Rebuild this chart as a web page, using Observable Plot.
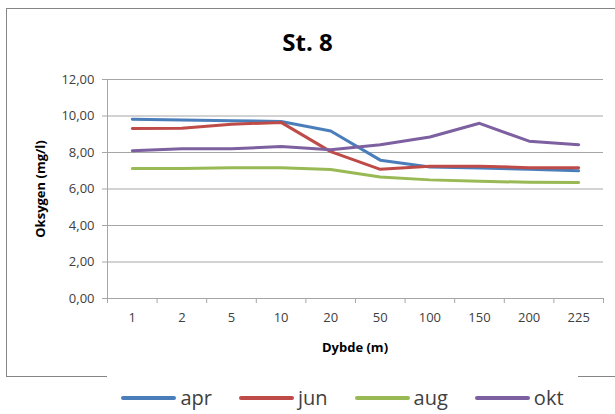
<!DOCTYPE html>
<html><head><meta charset="utf-8">
<script src="https://cdn.jsdelivr.net/npm/d3@7"></script>
<script src="https://cdn.jsdelivr.net/npm/@observablehq/plot@0.6"></script>
<style>
body{margin:0;background:#fff;font-family:"Open Sans",sans-serif;}
#wrap{position:relative;width:615px;height:414px;overflow:hidden;background:#fff;}
#frame{position:absolute;left:6px;top:8px;width:640px;height:369px;border:1px solid #868686;box-sizing:border-box;}
#title{position:absolute;left:0;width:615px;top:25px;text-align:center;font-weight:bold;font-size:24px;line-height:34px;color:#000;}
#plot{position:absolute;left:0;top:0;}
#xlab{position:absolute;left:107px;width:496px;top:337px;text-align:center;font-weight:bold;font-size:13px;line-height:20px;color:#000;}
#ylab{position:absolute;left:40px;top:189px;transform:translate(-50%,-50%) rotate(-90deg);font-weight:bold;font-size:13px;white-space:nowrap;color:#000;}
#legend{position:absolute;left:107px;width:471px;top:374px;height:48px;background:#fff;display:flex;justify-content:center;align-items:center;gap:27px;}
.item{display:flex;align-items:center;gap:4px;font-size:20px;color:#404040;line-height:24px;}
.sw{width:55px;height:4px;border-radius:2px;}
</style>
</head><body>
<div id="wrap">
  <div id="frame"></div>
  <div id="plot"></div>
  <div id="title">St. 8</div>
  <div id="ylab">Oksygen (mg/l)</div>
  <div id="xlab">Dybde (m)</div>
  <div id="legend"></div>
</div>
<script>
const depths = ["1","2","5","10","20","50","100","150","200","225"];
const apr = [9.82,9.78,9.74,9.70,9.18,7.58,7.20,7.15,7.08,7.00];
const jun = [9.32,9.33,9.55,9.65,8.05,7.08,7.25,7.25,7.17,7.16];
const aug = [7.12,7.12,7.16,7.16,7.07,6.66,6.50,6.42,6.37,6.36];
const okt = [8.10,8.20,8.20,8.33,8.15,8.43,8.85,9.60,8.62,8.43];
const seriesNames = ["apr","jun","aug","okt"];
const colors = ["#4a7ebb","#be4b48","#98b954","#7d60a0"];
const yTicks = [0,2,4,6,8,10,12];

const seriesValues = [apr, jun, aug, okt];
const rows = [];
seriesNames.forEach((s, k) => seriesValues[k].forEach((v, i) => rows.push({s, x: i + 0.5, v})));

const boundaries = d3.range(0, depths.length + 1);
const centers = depths.map((d, i) => i + 0.5);
const gridColor = "#a6a6a6";

const chart = Plot.plot({
  width: 615, height: 414,
  marginTop: 79, marginBottom: 116, marginLeft: 107, marginRight: 12,
  style: {fontFamily: "Open Sans", fontSize: "13px", color: "#404040", background: "transparent", overflow: "visible"},
  x: {type: "linear", domain: [0, depths.length], axis: null},
  y: {domain: [0, 12], axis: null},
  color: {domain: seriesNames, range: colors},
  marks: [
    Plot.gridY(yTicks, {stroke: gridColor, strokeOpacity: 1}),
    Plot.ruleX([0], {stroke: gridColor}),
    Plot.axisY(yTicks, {tickSize: 5, tickPadding: 8, stroke: gridColor, fill: "#404040", label: null,
      tickFormat: d => d.toFixed(2).replace(".", ",")}),
    Plot.axisX(boundaries, {tickSize: 5, stroke: gridColor, tickFormat: () => "", label: null}),
    Plot.axisX(centers, {tickSize: 0, tickPadding: 14, fill: "#404040", label: null,
      tickFormat: d => depths[Math.floor(d)]}),
    Plot.line(rows, {x: "x", y: "v", z: "s", stroke: "s", strokeWidth: 3})
  ]
});
document.getElementById("plot").appendChild(chart);

const legend = document.getElementById("legend");
seriesNames.forEach((s, k) => {
  const it = document.createElement("div");
  it.className = "item";
  const sw = document.createElement("div");
  sw.className = "sw";
  sw.style.background = colors[k];
  const t = document.createElement("span");
  t.textContent = s;
  it.appendChild(sw); it.appendChild(t);
  legend.appendChild(it);
});
</script>
</body></html>
